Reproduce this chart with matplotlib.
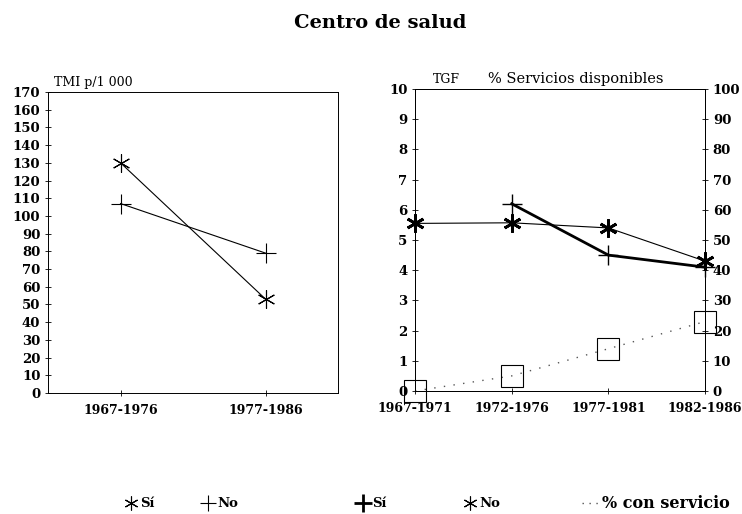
import numpy as np
import matplotlib.pyplot as plt
from matplotlib.lines import Line2D

# left panel: infant mortality
periods_l = ["1967-1976", "1977-1986"]
tmi_si = [130, 53]
tmi_no = [107, 79]

# right panel: fertility and services
periods_r = ["1967-1971", "1972-1976", "1977-1981", "1982-1986"]
tgf_si = [np.nan, 6.2, 4.5, 4.1]
tgf_no = [5.55, 5.57, 5.4, 4.3]
pct_servicio = [0, 5, 14, 23]

plt.rcParams["font.family"] = ["DejaVu Serif"]
plt.rcParams["font.weight"] = "bold"
tick_fs = 9
ast = (6, 2, 0)

fig = plt.figure(figsize=(7.42, 5.14), dpi=100)
ax1 = fig.add_axes([0.0647, 0.2354, 0.391, 0.5856])
ax2 = fig.add_axes([0.5593, 0.2393, 0.391, 0.5875])
ax3 = ax2.twinx()

xl = np.arange(len(periods_l))
ax1.plot(xl, tmi_si, color="black", lw=0.8, marker=ast, ms=13, mew=0.8)
ax1.plot(xl, tmi_no, color="black", lw=0.8, marker="+", ms=14, mew=0.8)
ax1.set_xlim(-0.5, 1.5)
ax1.set_ylim(0, 170)
ax1.set_yticks(range(0, 171, 10))
ax1.set_xticks(xl, periods_l)
ax1.text(0.02, 1.01, "TMI p/1 000", transform=ax1.transAxes, fontsize=9,
         va="bottom", ha="left", fontweight="normal")

xr = np.arange(len(periods_r))
ax2.plot(xr, tgf_si, color="black", lw=2, marker="+", ms=15, mew=1.0,
         clip_on=False, zorder=3)
ax2.plot(xr, tgf_no, color="black", lw=0.8, marker=ast, ms=13, mew=2,
         clip_on=False, zorder=3)
ax3.plot(xr, pct_servicio, color="#555555", lw=1, ls=(0, (1, 6)),
         marker="s", ms=16, mfc="none", mec="black", mew=0.8, clip_on=False)
ax2.set_xlim(0, 3)
ax2.set_ylim(0, 10)
ax3.set_ylim(0, 100)
ax2.set_yticks(range(0, 11))
ax3.set_yticks(range(0, 101, 10))
ax2.set_xticks(xr, periods_r)
ax2.text(0.06, 1.01, "TGF", transform=ax2.transAxes, fontsize=9,
         va="bottom", ha="left", fontweight="normal")
ax2.text(0.25, 1.01, "% Servicios disponibles", transform=ax2.transAxes,
         fontsize=10.5, va="bottom", ha="left", fontweight="normal")

for ax in (ax1, ax2, ax3):
    ax.tick_params(labelsize=tick_fs, direction="inout", length=4, width=0.6)
    for s in ax.spines.values():
        s.set_linewidth(0.7)
ax1.tick_params(axis="y", labelsize=9.5)
ax1.tick_params(axis="x", pad=6)
ax2.tick_params(axis="x", pad=6)
ax2.tick_params(axis="y", labelsize=9.5)
ax3.tick_params(axis="y", labelsize=9.5)
for ax in (ax1, ax2, ax3):
    for lab in ax.get_xticklabels() + ax.get_yticklabels():
        lab.set_fontweight("bold")

fig.text(0.513, 0.955, "Centro de salud", ha="center", va="center",
         fontsize=14, fontweight="bold")

# legends, one entry each so they sit where the reference puts them
entries = [
    (Line2D([], [], ls="none", marker=ast, color="black", ms=10, mew=0.8), "Sí", 0.168, 9.5, 1.0),
    (Line2D([], [], ls="none", marker="+", color="black", ms=12, mew=0.8), "No", 0.272, 9.5, 1.0),
    (Line2D([], [], ls="none", marker="+", color="black", ms=13, mew=2), "Sí", 0.48, 9.5, 1.0),
    (Line2D([], [], ls="none", marker=ast, color="black", ms=10, mew=0.8), "No", 0.625, 9.5, 1.0),
    (Line2D([], [], color="#555555", lw=1, ls=(0, (1, 4))), "% con servicio", 0.785, 11.5, 1.0),
]
for h, lab, x0, fs, hl in entries:
    fig.legend([h], [lab], loc="center left", bbox_to_anchor=(x0, 0.02),
               frameon=False, fontsize=fs, handlelength=hl,
               handletextpad=0.2, borderpad=0, borderaxespad=0)

fig.savefig("out.png", dpi=100)
